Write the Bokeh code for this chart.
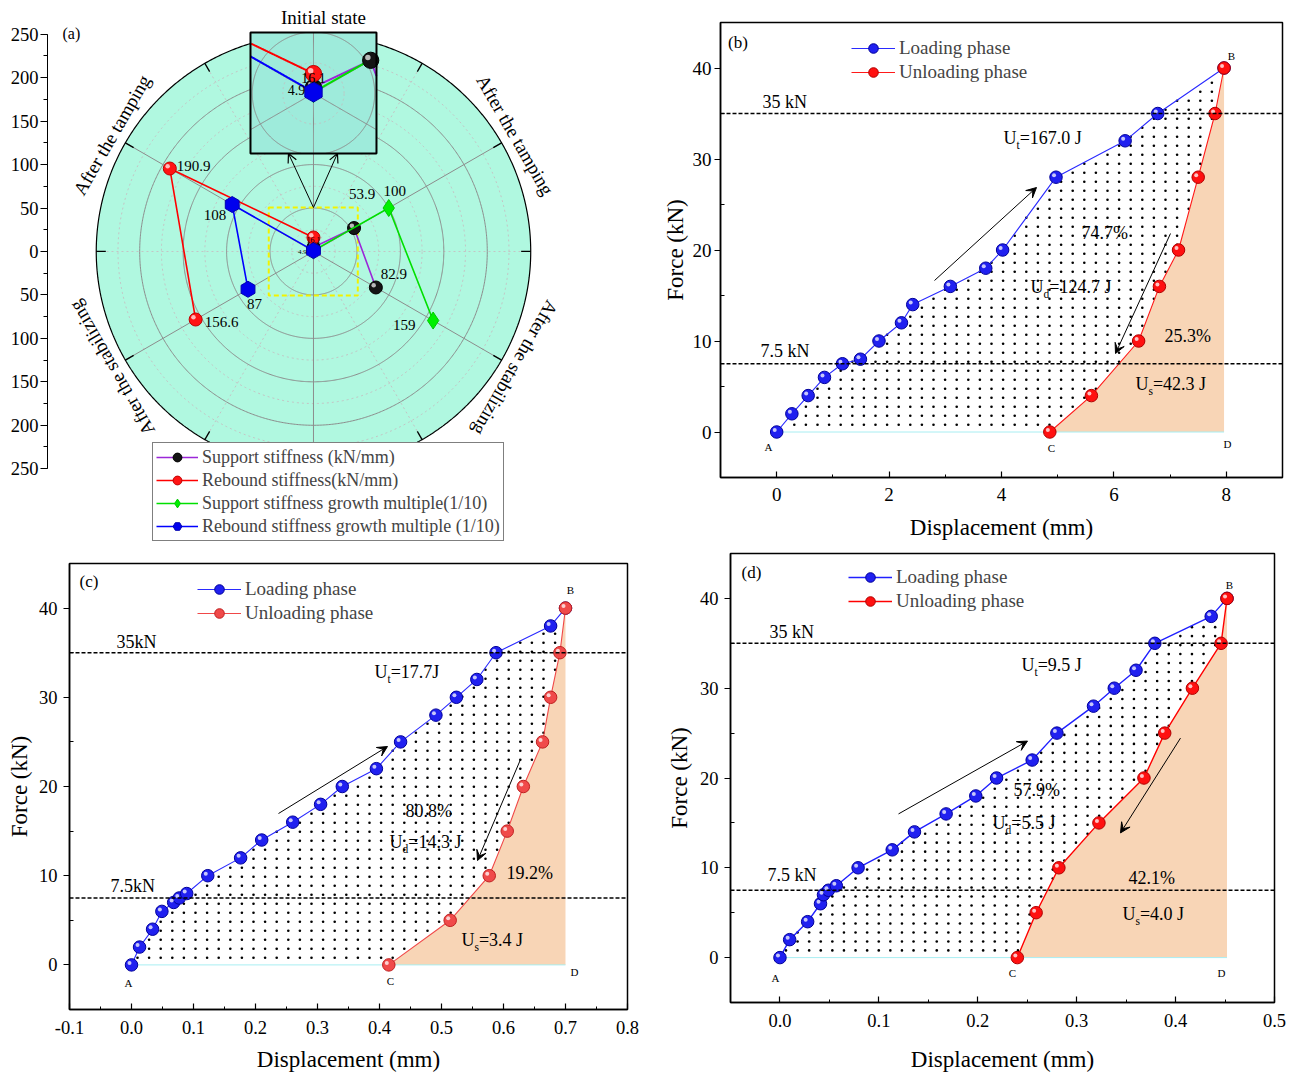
import numpy as np
from bokeh.plotting import figure
from bokeh.layouts import column, row
from bokeh.models import (Range1d, FixedTicker, PrintfTickFormatter, CustomJSTickFormatter,
                          Legend, LegendItem, Arrow, VeeHead, OpenHead, Span)
from bokeh.core.properties import value
from bokeh.embed import file_html
from bokeh.resources import INLINE

FONT = "Liberation Serif"

# ======================= DATA =======================
# (a) stiffness radar chart
a_state_labels = ["Initial state", "After the tamping", "After the stabilizing"]
support_stiffness = [4.9, 53.9, 82.9]        # kN/mm
rebound_stiffness = [16.1, 190.9, 156.6]     # kN/mm
support_growth = [1.0, 100.0, 159.0]         # growth multiple (1/10)
rebound_growth = [1.0, 108.0, 87.0]          # growth multiple (1/10)
a_radial_ticks = [-250, -200, -150, -100, -50, 0, 50, 100, 150, 200, 250]
a_legend_labels = ["Support stiffness (kN/mm)", "Rebound stiffness(kN/mm)",
                   "Support stiffness growth multiple(1/10)", "Rebound stiffness growth multiple (1/10)"]

# (b)
b_load_x = [0, 0.27, 0.56, 0.85, 1.17, 1.49, 1.82, 2.22, 2.42, 3.09, 3.72, 4.02, 4.97, 6.20, 6.78, 7.96]
b_load_y = [0, 2, 4, 6, 7.5, 8, 10, 12, 14, 16, 18, 20, 28, 32, 35, 40]
b_unload_x = [7.96, 7.80, 7.50, 7.15, 6.81, 6.44, 5.60, 4.86]
b_unload_y = [40, 35, 28, 20, 16, 10, 4, 0]
b_xticks = [0, 2, 4, 6, 8]

# (c)
c_load_x = [0, 0.013, 0.034, 0.049, 0.068, 0.077, 0.089, 0.123, 0.176, 0.21, 0.26, 0.305,
            0.34, 0.395, 0.434, 0.491, 0.524, 0.557, 0.588, 0.676, 0.70]
c_load_y = [0, 2, 4, 6, 7, 7.5, 8, 10, 12, 14, 16, 18, 20, 22, 25, 28, 30, 32, 35, 38, 40]
c_unload_x = [0.70, 0.691, 0.676, 0.663, 0.632, 0.606, 0.577, 0.514, 0.415]
c_unload_y = [40, 35, 30, 25, 20, 15, 10, 5, 0]
c_xticks = [-0.1, 0.0, 0.1, 0.2, 0.3, 0.4, 0.5, 0.6, 0.7, 0.8]

# (d)
d_load_x = [0, 0.0098, 0.028, 0.041, 0.044, 0.049, 0.057, 0.079, 0.1135, 0.136, 0.168, 0.198,
            0.219, 0.255, 0.28, 0.317, 0.338, 0.36, 0.379, 0.436, 0.452]
d_load_y = [0, 2, 4, 6, 7, 7.5, 8, 10, 12, 14, 16, 18, 20, 22, 25, 28, 30, 32, 35, 38, 40]
d_unload_x = [0.452, 0.446, 0.417, 0.389, 0.368, 0.3225, 0.282, 0.259, 0.24]
d_unload_y = [40, 35, 30, 25, 20, 15, 10, 5, 0]
d_xticks = [0.0, 0.1, 0.2, 0.3, 0.4, 0.5]

force_yticks = [0, 10, 20, 30, 40]
thresholds = [35, 7.5]


# ======================= helpers =======================
def txt(p, x, y, s, size, align="left", baseline="middle", xo=0, yo=0, angle=0.0, color="black"):
    p.text(x=[x], y=[y], text=[s], text_font=value(FONT), text_font_size=f"{size}px",
           text_align=align, text_baseline=baseline, x_offset=xo, y_offset=yo,
           angle=angle, text_color=color)


def style_axis(ax, label_size, tick_size):
    ax.major_label_text_font = FONT
    ax.major_label_text_font_size = f"{tick_size}px"
    ax.major_label_text_color = "black"
    ax.axis_label_text_font = FONT
    ax.axis_label_text_font_size = f"{label_size}px"
    ax.axis_label_text_font_style = "normal"
    ax.axis_label_text_color = "black"
    ax.axis_line_color = "black"
    ax.axis_line_width = 1.5
    ax.major_tick_line_color = "black"
    ax.minor_tick_line_color = "black"
    ax.major_tick_line_width = 1.2
    ax.minor_tick_line_width = 1.0


def inside_polygon(px, py, vx, vy):
    vx = np.asarray(vx, float)
    vy = np.asarray(vy, float)
    res = np.zeros(px.shape, bool)
    j = len(vx) - 1
    for i in range(len(vx)):
        dy = vy[j] - vy[i]
        dy = dy if abs(dy) > 1e-12 else 1e-12
        cond = ((vy[i] > py) != (vy[j] > py)) & (px < (vx[j] - vx[i]) * (py - vy[i]) / dy + vx[i])
        res ^= cond
        j = i
    return res


# ======================= PANEL (a) =======================
PXU = 0.869  # px per unit in panel (a)
pa = figure(width=653, height=546, x_range=Range1d(-306.1, 391.3), y_range=Range1d(-339.5, 288.8),
            output_backend="svg", toolbar_location=None, x_axis_location=None,
            min_border_left=47, min_border_right=0, min_border_top=0, min_border_bottom=0)
pa.frame_align = False
pa.xgrid.visible = False
pa.ygrid.visible = False
pa.outline_line_color = None
ya = pa.yaxis[0]
ya.bounds = (-250, 250)
ya.ticker = FixedTicker(ticks=a_radial_ticks, minor_ticks=list(range(-250, 251, 25)))
ya.formatter = CustomJSTickFormatter(code="return Math.abs(tick).toFixed(0);")
style_axis(ya, 18, 18.5)
ya.axis_line_width = 1
ya.major_tick_in = 0
ya.major_tick_out = 7
ya.minor_tick_in = 0
ya.minor_tick_out = 4
ya.major_label_standoff = 2

R = 250
th = np.linspace(0, 2 * np.pi, 721)
GRID_SOLID = "#8c8c8c"
GRID_DOT = "#c4c4c4"

# background disk
pa.patch(R * np.cos(th), R * np.sin(th), fill_color="#b0f8e0", line_color=None)
for r in (25, 75, 125, 175, 225):
    pa.line(r * np.cos(th), r * np.sin(th), line_color=GRID_DOT, line_dash="2 3", line_width=1)
for d in range(0, 360, 60):
    t = np.radians(d)
    pa.line([0, R * np.cos(t)], [0, R * np.sin(t)], line_color=GRID_DOT, line_dash="2 3", line_width=1)
for r in (50, 100, 150, 200):
    pa.line(r * np.cos(th), r * np.sin(th), line_color=GRID_SOLID, line_width=1)
for d in range(30, 360, 60):
    t = np.radians(d)
    pa.line([0, R * np.cos(t)], [0, R * np.sin(t)], line_color=GRID_SOLID, line_width=1)
pa.line(R * np.cos(th), R * np.sin(th), line_color="black", line_width=1.2)
for d in range(0, 360, 30):
    t = np.radians(d)
    pa.line([239 * np.cos(t), R * np.cos(t)], [239 * np.sin(t), R * np.sin(t)], line_color="black", line_width=1.3)

# yellow dashed zoom box
pa.quad(left=-51.5, right=51.0, bottom=-50.6, top=50.6, fill_color=None,
        line_color="#f2f200", line_dash="5 3", line_width=2)

ANG_SUPPORT = [90, 30, -30]
ANG_REBOUND = [90, 150, 210]


def polar_xy(vals, degs):
    r = np.asarray(vals, float)
    t = np.radians(degs)
    return r * np.cos(t), r * np.sin(t)


series = [
    dict(vals=support_stiffness, angs=ANG_SUPPORT, line="#9b27d8", marker="circle", fill="#141414",
         edge="#000000", size=13, shine=True),
    dict(vals=support_growth, angs=ANG_SUPPORT, line="#00e000", marker="diamond", fill="#00f000",
         edge="#00c800", size=17, shine=False),
    dict(vals=rebound_stiffness, angs=ANG_REBOUND, line="#ff0000", marker="circle", fill="#ff1414",
         edge="#c00000", size=13, shine=True),
    dict(vals=rebound_growth, angs=ANG_REBOUND, line="#0000ff", marker="hex", fill="#0000ee",
         edge="#0000b0", size=16, shine=False),
]

rends = []
for s in series:
    x, y = polar_xy(s["vals"], s["angs"])
    lr = pa.line(x, y, line_color=s["line"], line_width=1.6)
    mr = pa.scatter(x, y, marker=s["marker"], size=s["size"], fill_color=s["fill"],
                    line_color=s["edge"], line_width=1, angle=(np.pi / 6 if s["marker"] == "hex" else 0))
    if s["shine"]:
        off = 2.2 / PXU
        pa.scatter(x - off, y + off, marker="circle", size=4.5, fill_color="white", fill_alpha=0.7, line_color=None)
    rends.append((lr, mr))

# value labels in main chart (series idx, point idx, x offset px, y offset px, size, align)
label_specs = [
    (0, 1, 8, -34, 15, "center"), (0, 2, 18, -13, 15, "center"),
    (1, 1, 6, -17, 15, "center"), (1, 2, -29, 4, 15, "center"),
    (2, 1, 7, -3, 15, "left"), (2, 2, 9, 2, 15, "left"),
    (3, 1, -6, 10, 15, "right"), (3, 2, -1, 15, 15, "left"),
    (2, 0, 0, 3, 8, "center"), (0, 0, -11, 5, 7, "center"),
]
for si, pi, xo, yo, sz, al in label_specs:
    s = series[si]
    x, y = polar_xy(s["vals"], s["angs"])
    txt(pa, x[pi], y[pi], f"{s['vals'][pi]:g}", sz, align=al, xo=xo, yo=yo)

# direction labels
for d, rot, lab in [(150, np.pi / 3, a_state_labels[1]), (30, -np.pi / 3, a_state_labels[1]),
                    (210, 2 * np.pi / 3, a_state_labels[2]), (330, -2 * np.pi / 3, a_state_labels[2])]:
    t = np.radians(d)
    txt(pa, 268 * np.cos(t), 268 * np.sin(t), lab, 19, align="center", angle=rot)

# ---- inset (zoom of the initial state) ----
K = 1.41
INSET_C = (0.0, 182.0)
BOX = (-72.5, 72.5, 112.8, 252.0)


def to_inset(x, y):
    return INSET_C[0] + K * np.asarray(x, float), INSET_C[1] + K * np.asarray(y, float)


def clip_nan(x, y):
    x = np.asarray(x, float)
    y = np.asarray(y, float)
    m = (x >= BOX[0]) & (x <= BOX[1]) & (y >= BOX[2]) & (y <= BOX[3])
    return np.where(m, x, np.nan), np.where(m, y, np.nan)


def dense(xs, ys, n=300):
    ox, oy = [], []
    for i in range(len(xs) - 1):
        t = np.linspace(0, 1, n)
        ox.append(xs[i] + (xs[i + 1] - xs[i]) * t)
        oy.append(ys[i] + (ys[i + 1] - ys[i]) * t)
    return np.concatenate(ox), np.concatenate(oy)


pa.quad(left=BOX[0], right=BOX[1], bottom=BOX[2], top=BOX[3], fill_color="#9eebdb", line_color=None)
for r, dash, col in ((25, "2 3", GRID_DOT), (50, "solid", GRID_SOLID)):
    ix, iy = clip_nan(*to_inset(r * np.cos(th), r * np.sin(th)))
    pa.line(ix, iy, line_color=col, line_dash=dash, line_width=1)
for d in range(30, 360, 60):
    t = np.radians(d)
    ix, iy = clip_nan(*to_inset(*dense([0, R * np.cos(t)], [0, R * np.sin(t)])))
    pa.line(ix, iy, line_color=GRID_SOLID, line_width=1)
for s in series:
    x, y = polar_xy(s["vals"], s["angs"])
    ix, iy = clip_nan(*to_inset(*dense(list(x), list(y))))
    pa.line(ix, iy, line_color=s["line"], line_width=2)
for s in series:
    x, y = polar_xy(s["vals"], s["angs"])
    ix, iy = to_inset(x, y)
    keep = (ix >= BOX[0]) & (ix <= BOX[1]) & (iy >= BOX[2]) & (iy <= BOX[3])
    pa.scatter(ix[keep], iy[keep], marker=s["marker"], size=s["size"] * 1.25, fill_color=s["fill"],
               line_color=s["edge"], line_width=1, angle=(np.pi / 6 if s["marker"] == "hex" else 0))
    if s["shine"]:
        off = 2.8 / PXU
        pa.scatter(ix[keep] - off, iy[keep] + off, marker="circle", size=5.5, fill_color="white",
                   fill_alpha=0.7, line_color=None)
rx, ry = to_inset(*polar_xy(rebound_stiffness, ANG_REBOUND))
txt(pa, rx[0], ry[0], f"{rebound_stiffness[0]:g}", 14, align="center", yo=4)
bx, by = to_inset(*polar_xy(rebound_growth, ANG_REBOUND))
txt(pa, bx[0], by[0], f"{support_stiffness[0]:g}", 14, align="center", xo=-17, yo=-2)
pa.quad(left=BOX[0], right=BOX[1], bottom=BOX[2], top=BOX[3], fill_color=None, line_color="black", line_width=2)
txt(pa, 11.5, 269, a_state_labels[0], 19, align="center")

for xe in (-28.8, 27.6):
    pa.add_layout(Arrow(end=OpenHead(size=9, line_width=1.2, line_color="black"),
                        x_start=0, y_start=50.6, x_end=xe, y_end=BOX[2],
                        line_color="black", line_width=1))

txt(pa, -288.8, 250.9, "(a)", 16)

leg_a = Legend(items=[LegendItem(label=a_legend_labels[0], renderers=list(rends[0])),
                      LegendItem(label=a_legend_labels[1], renderers=list(rends[2])),
                      LegendItem(label=a_legend_labels[2], renderers=list(rends[1])),
                      LegendItem(label=a_legend_labels[3], renderers=list(rends[3]))],
               location=(105, 5), label_text_font=FONT, label_text_font_size="18px",
               glyph_width=42, glyph_height=22, label_height=22, spacing=1, padding=3, margin=0,
               label_standoff=4, border_line_color="black", border_line_width=1,
               background_fill_color="white", background_fill_alpha=1.0)
pa.add_layout(leg_a)


# ======================= FORCE PANELS =======================
def force_panel(cfg, load_x, load_y, unload_x, unload_y, xticks):
    p = figure(width=cfg["w"], height=cfg["h"], x_range=Range1d(*cfg["xr"]), y_range=Range1d(-5, 45),
               output_backend="svg", toolbar_location=None,
               min_border_left=cfg["bl"], min_border_right=cfg["br"],
               min_border_top=cfg["bt"], min_border_bottom=cfg["bb"])
    p.frame_align = False
    p.xgrid.visible = False
    p.ygrid.visible = False
    p.outline_line_color = "black"
    p.outline_line_width = 1.5
    fl = cfg["ox"] + cfg["bl"]
    ft = cfg["oy"] + cfg["bt"]
    fw = cfg["w"] - cfg["bl"] - cfg["br"]
    fh = cfg["h"] - cfg["bt"] - cfg["bb"]
    x0, x1 = cfg["xr"]

    def X(sx):
        return x0 + (sx - fl) / fw * (x1 - x0)

    def Y(sy):
        return 45 - (sy - ft) / fh * 50.0

    dxu = (x1 - x0) / fw
    dyu = 50.0 / fh

    # shaded areas
    p.patch(list(unload_x) + [unload_x[0]], list(unload_y) + [0], fill_color="#f8d5b6", line_color=None)
    px_poly = list(load_x) + list(unload_x[1:])
    py_poly = list(load_y) + list(unload_y[1:])
    gx = np.arange(min(px_poly) + 6.0 * dxu, max(px_poly), 11.6 * dxu)
    gy = np.arange(0.8 * dyu * 9.0, max(py_poly), 9.0 * dyu)
    GX, GY = np.meshgrid(gx, gy)
    GX = GX.ravel()
    GY = GY.ravel()
    m = inside_polygon(GX, GY, px_poly, py_poly)
    p.scatter(GX[m], GY[m], marker="circle", size=2.6, fill_color="black", line_color=None)
    p.line([load_x[0], unload_x[0]], [0, 0], line_color="#a8eef2", line_width=1)
    for lv in thresholds:
        p.add_layout(Span(location=lv, dimension="width", line_color="black", line_dash="4 2", line_width=1.4))

    def balls(xs, ys, fill, edge):
        r = p.scatter(xs, ys, marker="circle", size=12.5, fill_color=fill, line_color=edge, line_width=1)
        p.scatter(np.asarray(xs) - 2.0 * dxu, np.asarray(ys) + 2.0 * dyu, marker="circle", size=4,
                  fill_color="white", fill_alpha=0.75, line_color=None)
        return r

    lr = p.line(load_x, load_y, line_color=cfg["blue_line"], line_width=cfg["lw"])
    ls = balls(load_x, load_y, cfg["blue_fill"], cfg["blue_edge"])
    ur = p.line(unload_x, unload_y, line_color=cfg["red_line"], line_width=cfg["lw"])
    us = balls(unload_x, unload_y, cfg["red_fill"], cfg["red_edge"])

    # annotations
    for s, sx, sy, sz in cfg["texts"]:
        txt(p, X(sx), Y(sy), s, sz)
    for sub, rest, sx, sy in cfg["utexts"]:
        txt(p, X(sx), Y(sy), "U", 18)
        txt(p, X(sx), Y(sy), sub, 11.5, xo=13, yo=7)
        wsub = {"t": 0.278, "d": 0.5, "s": 0.389}[sub] * 11.5
        txt(p, X(sx), Y(sy), rest, 18, xo=13 + wsub)
    for s, sx, sy in cfg["letters"]:
        txt(p, X(sx), Y(sy), s, 11, align="center")
    for sx0, sy0, sx1, sy1 in cfg["arrows"]:
        p.add_layout(Arrow(end=VeeHead(size=10, fill_color="black", line_color="black", line_width=1),
                           x_start=X(sx0), y_start=Y(sy0), x_end=X(sx1), y_end=Y(sy1),
                           line_color="black", line_width=1))

    xa = p.xaxis[0]
    xa.ticker = FixedTicker(ticks=xticks, minor_ticks=cfg["xminor"])
    xa.formatter = PrintfTickFormatter(format=cfg["xfmt"])
    xa.axis_label = "Displacement (mm)"
    style_axis(xa, cfg["alab"], cfg["tlab"])
    xa.major_tick_in = 6
    xa.major_tick_out = 0
    xa.minor_tick_in = 3
    xa.minor_tick_out = 0
    xa.major_label_standoff = cfg["xls"]
    xa.axis_label_standoff = cfg["xas"]

    ya_ = p.yaxis[0]
    ya_.ticker = FixedTicker(ticks=force_yticks, minor_ticks=[-5, 5, 15, 25, 35, 45])
    ya_.axis_label = "Force (kN)"
    style_axis(ya_, cfg["alab"], cfg["tlab"])
    ya_.major_tick_in = 0
    ya_.major_tick_out = 6
    ya_.minor_tick_in = 4
    ya_.minor_tick_out = 0
    ya_.major_label_standoff = cfg["yls"]
    ya_.axis_label_standoff = cfg["yas"]

    leg = Legend(items=[LegendItem(label="Loading phase", renderers=[lr, ls]),
                        LegendItem(label="Unloading phase", renderers=[ur, us])],
                 location=cfg["leg"], label_text_font=FONT, label_text_font_size="19px",
                 glyph_width=44, glyph_height=24, label_height=24, spacing=0, padding=2, margin=0,
                 label_standoff=4, border_line_color=None, background_fill_alpha=0)
    p.add_layout(leg)
    return p


cfg_b = dict(w=647, h=546, ox=653, oy=0, bl=67, br=18, bt=22, bb=69, xr=(-1, 9),
             xminor=[-1, 1, 3, 5, 7, 9], xfmt="%d", alab=23, tlab=19, xls=10, xas=11, yls=3, yas=2,
             lw=1.1, blue_line="#2a2aff", blue_fill="#2020f0", blue_edge="#00009a",
             red_line="#ff1a1a", red_fill="#ff1010", red_edge="#b00000", leg=(131, 393),
             texts=[("(b)", 727.5, 42, 17), ("35 kN", 762, 101, 18), ("7.5 kN", 760, 350, 18),
                    ("74.7%", 1081, 232, 18), ("25.3%", 1164, 335, 18)],
             utexts=[("t", "=167.0 J", 1003, 137), ("d", "=124.7 J", 1030, 286), ("s", "=42.3 J", 1135, 383)],
             letters=[("A", 768, 446), ("B", 1231, 55), ("C", 1051, 447), ("D", 1227, 443)],
             arrows=[(934, 280, 1036, 187), (1170, 233, 1115, 353)])

cfg_c = dict(w=653, h=528, ox=0, oy=546, bl=69, br=26, bt=17, bb=65, xr=(-0.1, 0.8),
             xminor=[-0.05, 0.05, 0.15, 0.25, 0.35, 0.45, 0.55, 0.65, 0.75], xfmt="%.1f", alab=23, tlab=18.5,
             xls=11, xas=10, yls=6, yas=4,
             lw=1.1, blue_line="#2a2aff", blue_fill="#2020f0", blue_edge="#00009a",
             red_line="#f04848", red_fill="#f04a4a", red_edge="#c02020", leg=(128, 384),
             texts=[("(c)", 79, 581, 17), ("35kN", 116, 641, 18), ("7.5kN", 110, 885, 18),
                    ("80.8%", 405, 810, 18), ("19.2%", 506, 872, 18)],
             utexts=[("t", "=17.7J", 374, 671), ("d", "=14.3 J", 389, 841), ("s", "=3.4 J", 461, 939)],
             letters=[("A", 128, 982), ("B", 570, 589), ("C", 390, 980), ("D", 574, 971)],
             arrows=[(278, 813, 387, 746), (520, 759, 477, 860)])

cfg_d = dict(w=647, h=528, ox=653, oy=546, bl=77, br=26, bt=7, bb=71, xr=(-0.05, 0.5),
             xminor=[-0.05, 0.05, 0.15, 0.25, 0.35, 0.45], xfmt="%.1f", alab=23, tlab=18.5,
             xls=11, xas=17, yls=6, yas=5,
             lw=1.4, blue_line="#2020ff", blue_fill="#2020f0", blue_edge="#00009a",
             red_line="#ff0000", red_fill="#ff1010", red_edge="#b00000", leg=(118, 389),
             texts=[("(d)", 741, 572, 17), ("35 kN", 769, 632, 18), ("7.5 kN", 767, 875, 18),
                    ("57.9%", 1013, 790, 18), ("42.1%", 1128, 878, 18)],
             utexts=[("t", "=9.5 J", 1021, 665), ("d", "=5.5 J", 992, 823), ("s", "=4.0 J", 1122, 914)],
             letters=[("A", 775, 978), ("B", 1229, 585), ("C", 1012, 973), ("D", 1221, 973)],
             arrows=[(898, 814, 1027, 741), (1180, 738, 1120, 833)])

pb = force_panel(cfg_b, b_load_x, b_load_y, b_unload_x, b_unload_y, b_xticks)
pc = force_panel(cfg_c, c_load_x, c_load_y, c_unload_x, c_unload_y, c_xticks)
pd = force_panel(cfg_d, d_load_x, d_load_y, d_unload_x, d_unload_y, d_xticks)

layout = column(row(pa, pb), row(pc, pd))
open("out.html", "w").write(file_html(layout, INLINE))
